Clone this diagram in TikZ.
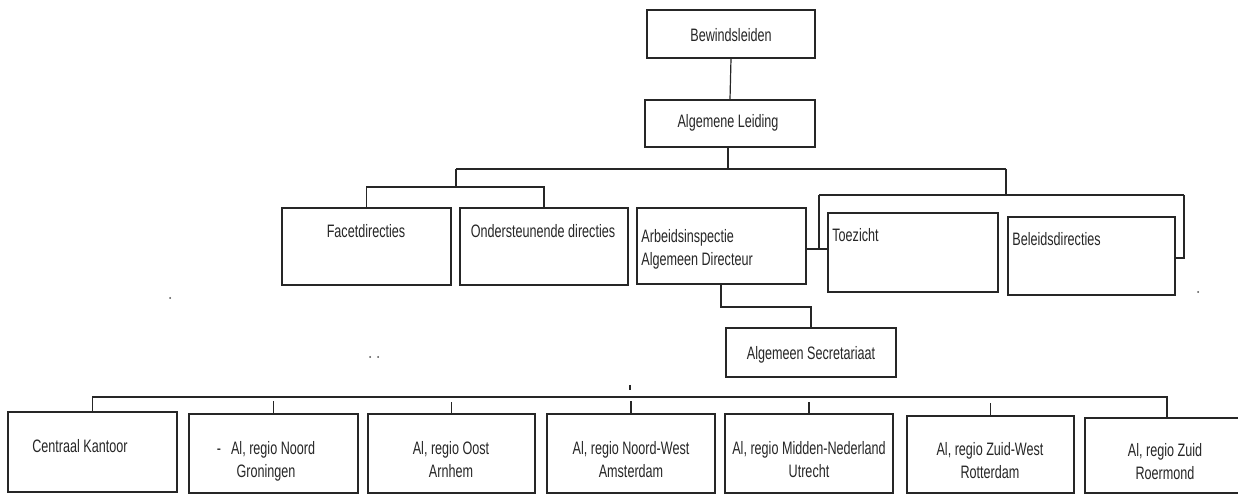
\documentclass[tikz,border=0pt]{standalone}
\usepackage{fontspec}
\setmainfont[FakeStretch=0.7]{Liberation Sans}
\usetikzlibrary{fit}
\begin{document}
\begin{tikzpicture}[x=0.5pt,y=-0.5pt,
  box/.style={draw=black!85, line width=0.6pt, inner sep=0pt},
  lbl/.style={font=\fontsize{9}{11.5}\selectfont, inner sep=0pt, text=black!85},
  con/.style={draw=black!85, line width=0.6pt},
  speck/.style={fill=black!70, draw=none}]
\useasboundingbox (0,0) rectangle (1238,497);
% boxes
\node[box, fit={(647,10)(815,58)}] (bew) {};
\node[box, fit={(645,100)(815,147)}] (alg) {};
\node[box, fit={(282,208)(451,285)}] (fac) {};
\node[box, fit={(460,208)(628,285)}] (ond) {};
\node[box, fit={(637,208)(806,284)}] (arb) {};
\node[box, fit={(828,213)(998,292)}] (toe) {};
\node[box, fit={(1008,217)(1175,295)}] (bel) {};
\node[box, fit={(726,328)(896,377)}] (sec) {};
\node[box, fit={(8,412)(177,492)}] (ck) {};
\node[box, fit={(189,414)(358,493)}] (rn) {};
\node[box, fit={(368,414)(535,493)}] (ro) {};
\node[box, fit={(547,414)(715,493)}] (rnw) {};
\node[box, fit={(725,414)(893,493)}] (rmn) {};
\node[box, fit={(907,416)(1074,493)}] (rzw) {};
\node[box, fit={(1085,418)(1250,493)}] (rz) {};
% labels
\node[lbl, anchor=base] (bewT) at (731,42) {Bewindsleiden};
\node[lbl, anchor=base] (algT) at (728,128) {Algemene Leiding};
\node[lbl, anchor=base] (facT) at (366,238) {Facetdirecties};
\node[lbl, anchor=base] (ondT) at (543,238) {Ondersteunende directies};
\node[lbl, anchor=base west] (arbT) at (641,243) {Arbeidsinspectie};
\node[lbl, anchor=base west] (arbT2) at (641,266) {Algemeen Directeur};
\node[lbl, anchor=base west] (toeT) at (832,242) {Toezicht};
\node[lbl, anchor=base west] (belT) at (1012,246) {Beleidsdirecties};
\node[lbl, anchor=base] (secT) at (811,360) {Algemeen Secretariaat};
\node[lbl, anchor=base] (ckT) at (80,452) {Centraal Kantoor};
\node[lbl, anchor=base] (rnT) at (266,454) {-\hspace{5pt}Al, regio Noord};
\node[lbl, anchor=base] (rnT2) at (266,477) {Groningen};
\node[lbl, anchor=base] (roT) at (451,454) {Al, regio Oost};
\node[lbl, anchor=base] (roT2) at (451,477) {Arnhem};
\node[lbl, anchor=base] (rnwT) at (631,454) {Al, regio Noord-West};
\node[lbl, anchor=base] (rnwT2) at (631,477) {Amsterdam};
\node[lbl, anchor=base] (rmnT) at (809,454) {Al, regio Midden-Nederland};
\node[lbl, anchor=base] (rmnT2) at (809,477) {Utrecht};
\node[lbl, anchor=base] (rzwT) at (990,456) {Al, regio Zuid-West};
\node[lbl, anchor=base] (rzwT2) at (990,479) {Rotterdam};
\node[lbl, anchor=base] (rzT) at (1165,457) {Al, regio Zuid};
\node[lbl, anchor=base] (rzT2) at (1165,480) {Roermond};
% junction coordinates
\coordinate (jA) at (728,169);
\coordinate (jL) at (456,169);
\coordinate (jR) at (1006,169);
\coordinate (lL) at (456,187);
\coordinate (rR) at (1006,195);
\coordinate (rT) at (819,195);
\coordinate (rE) at (1184,195);
\coordinate (sA) at (721,307);
\coordinate (sB) at (811,307);
\coordinate (bL) at (93,397);
\coordinate (bR) at (1167,397);
% connectors
\draw[con] (bew.south) -- (alg.north);
\draw[con] (alg.south -| jA) -- (jA);
\draw[con] (jL) -- (jR);
\draw[con] (jL) -- (lL);
\draw[con] (fac.north) |- (lL) -| (ond.north);
\draw[con] (jR) -- (rR);
\draw[con] (rT) -- (rE);
\draw[con] (rT) -- (rT |- 0,249);
\draw[con] (arb.east |- 0,249) -- (toe.west |- 0,249);
\draw[con] (rE) |- (bel.east |- 0,258);
\draw[con] (arb.south -| sA) -- (sA) -- (sB) -- (sec.north);
\draw[con] (ck.north) |- (bL) -- (bR) -- (rz.north -| bR);
\draw[con] (rn.north) ++(0,-12) -- (rn.north);
\draw[con] (ro.north) ++(0,-11) -- (ro.north);
\draw[con] (rnw.north) ++(0,-12) -- (rnw.north);
\draw[con] (rmn.north) ++(0,-11) -- (rmn.north);
\draw[con] (rzw.north) ++(0,-12) -- (rzw.north);
\draw[con] (630,385) -- (630,390);
% scan specks
\fill[speck] (170,298) circle (1);
\fill[speck] (370,357) circle (1);
\fill[speck] (378,357) circle (1);
\fill[speck] (1198,292) circle (1);
\end{tikzpicture}
\end{document}
